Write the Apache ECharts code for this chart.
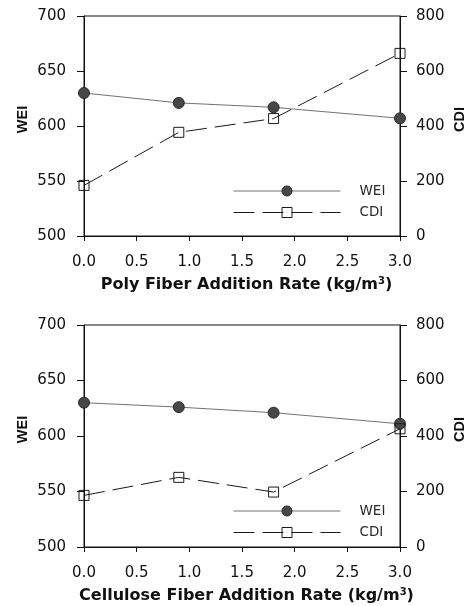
<!DOCTYPE html>
<html>
<head>
<meta charset="utf-8">
<script src="https://cdn.jsdelivr.net/npm/echarts@6/dist/echarts.min.js"></script>
<style>
  html, body { margin: 0; padding: 0; background: #fff; }
  #chart { width: 471px; height: 606px; }
</style>
</head>
<body>
<div id="chart"></div>
<script>
// Fiber addition rates (kg/m3)
const rates = [0, 0.9, 1.8, 3.0];

// Poly fiber panel
const polyWEI = [630, 621, 617, 607];
const polyCDI = [184, 377, 427, 664];

// Cellulose fiber panel
const celluloseWEI = [630, 626, 621, 611];
const celluloseCDI = [186, 251, 198, 426];

const xTicks = [0, 0.5, 1.0, 1.5, 2.0, 2.5, 3.0];
const weiRange = [500, 700, 50];
const cdiRange = [0, 800, 200];

const xTitles = ['Poly Fiber Addition Rate (kg/m', 'Cellulose Fiber Addition Rate (kg/m'];

const pairs = (xs, ys) => xs.map((x, i) => [x, ys[i]]);

const tickFont = { fontFamily: 'DejaVu Sans', fontSize: 15, color: '#111' };
const axisLine = { show: true, lineStyle: { color: '#111', width: 1 } };

// fixed plot rectangles; outer bounds disabled so the axis names don't shrink them
const grids = [
  { left: 84, top: 16, width: 316, height: 220 },
  { left: 84, top: 325, width: 316, height: 222 }
].map(g => Object.assign(g, {
  show: true, borderColor: '#111', borderWidth: 1, backgroundColor: 'transparent',
  containLabel: false, outerBoundsMode: 'none'
}));

function xAxisFor(i) {
  return {
    type: 'value', gridIndex: i, min: xTicks[0], max: xTicks[xTicks.length - 1], interval: 0.5,
    axisLine: axisLine,
    axisTick: { show: true, inside: false, length: 5, lineStyle: { color: '#111' } },
    splitLine: { show: false },
    axisLabel: Object.assign({ margin: 19, formatter: v => v.toFixed(1) }, tickFont),
    name: '{a|' + xTitles[i] + '}{s|3}{a|)}',
    nameLocation: 'middle', nameGap: 40, nameMoveOverlap: false,
    nameTextStyle: {
      padding: [0, 0, 0, 9],
      rich: {
        a: { fontFamily: 'DejaVu Sans', fontWeight: 'bold', fontSize: 16, color: '#111' },
        s: { fontFamily: 'DejaVu Sans', fontWeight: 'bold', fontSize: 10, color: '#111', verticalAlign: 'top', padding: [0, 0, 8, 0] }
      }
    }
  };
}

function yAxisFor(i, side, range, name) {
  return {
    type: 'value', gridIndex: i, position: side,
    min: range[0], max: range[1], interval: range[2],
    axisLine: axisLine,
    axisTick: { show: true, inside: false, length: 7, lineStyle: { color: '#111' } },
    splitLine: { show: false },
    axisLabel: Object.assign({ margin: side === 'left' ? 18 : 16 }, tickFont),
    name: name, nameLocation: 'middle', nameRotate: 90, nameMoveOverlap: false,
    nameGap: side === 'left' ? 54 : 52,
    nameTextStyle: { fontFamily: 'Liberation Sans', fontWeight: 'bold', fontSize: 14.5, color: '#111', padding: [0, 0, 0, 13] }
  };
}

function weiSeries(i, ys) {
  return {
    name: 'WEI', type: 'line', xAxisIndex: i, yAxisIndex: i * 2,
    data: pairs(rates, ys),
    symbol: 'circle', symbolSize: 11,
    lineStyle: { color: '#727272', width: 1, type: 'solid' },
    itemStyle: { color: '#474747', borderColor: '#2a2a2a', borderWidth: 1 },
    z: 3
  };
}

function cdiSeries(i, ys) {
  return {
    name: 'CDI', type: 'line', xAxisIndex: i, yAxisIndex: i * 2 + 1,
    data: pairs(rates, ys),
    symbol: 'rect', symbolSize: 10,
    lineStyle: { color: '#1a1a1a', width: 1, type: [21, 8] },
    itemStyle: { color: 'rgba(255,255,255,0)', borderColor: '#1a1a1a', borderWidth: 1 },
    z: 4
  };
}

function legendAt(top) {
  return {
    data: ['WEI', 'CDI'], orient: 'vertical', left: 233, top: top,
    padding: 0, itemWidth: 107, itemHeight: 12.5, itemGap: 7.5,
    selectedMode: false,
    itemStyle: { borderWidth: 1 },
    lineStyle: { width: 1 },
    formatter: n => '{g|}{t|' + n + '}',
    textStyle: {
      rich: {
        g: { width: 14 },
        t: { fontFamily: 'DejaVu Sans', fontSize: 13.5, color: '#2a2a2a' }
      }
    }
  };
}

const chart = echarts.init(document.getElementById('chart'), null, { renderer: 'canvas' });
chart.setOption({
  backgroundColor: '#fff',
  animation: false,
  grid: grids,
  xAxis: [xAxisFor(0), xAxisFor(1)],
  yAxis: [
    yAxisFor(0, 'left', weiRange, 'WEI'),
    yAxisFor(0, 'right', cdiRange, 'CDI'),
    yAxisFor(1, 'left', weiRange, 'WEI'),
    yAxisFor(1, 'right', cdiRange, 'CDI')
  ],
  legend: [legendAt(184), legendAt(504)],
  series: [
    weiSeries(0, polyWEI), cdiSeries(0, polyCDI),
    weiSeries(1, celluloseWEI), cdiSeries(1, celluloseCDI)
  ]
});
</script>
</body>
</html>
